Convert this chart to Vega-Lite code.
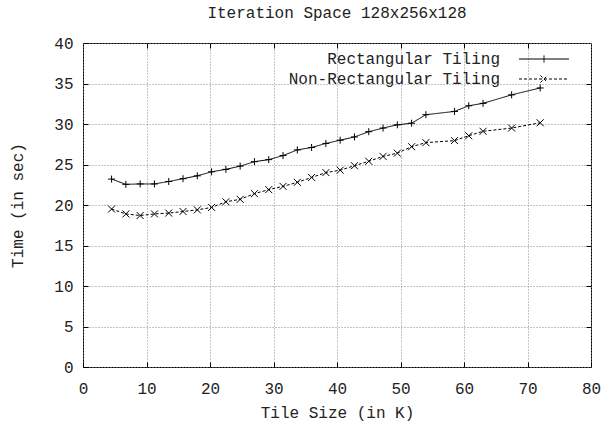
{
  "$schema": "https://vega.github.io/schema/vega-lite/v6.json",
  "width": 508,
  "height": 324,
  "autosize": "none",
  "padding": {"left": 83, "top": 43, "right": 16, "bottom": 57},
  "background": "white",
  "config": {
    "view": {"stroke": "black", "strokeWidth": 1},
    "font": "Liberation Mono",
    "axis": {"labelFont": "Liberation Mono", "titleFont": "Liberation Mono", "labelFontSize": 16, "titleFontSize": 16, "titleFontWeight": "normal", "labelColor": "#222", "titleColor": "#222", "domain": false, "tickColor": "black", "gridColor": "#888", "gridDash": [1, 2], "gridWidth": 1}
  },
  "title": {"text": "Iteration Space 128x256x128", "font": "Liberation Mono", "fontSize": 16, "fontWeight": "normal", "color": "#222", "anchor": "middle", "offset": 14},
  "data": {"values": [
    {"x": 4.5, "t": 23.2, "s": "Rectangular Tiling"},
    {"x": 6.75, "t": 22.55, "s": "Rectangular Tiling"},
    {"x": 9, "t": 22.6, "s": "Rectangular Tiling"},
    {"x": 11.25, "t": 22.6, "s": "Rectangular Tiling"},
    {"x": 13.5, "t": 22.9, "s": "Rectangular Tiling"},
    {"x": 15.75, "t": 23.25, "s": "Rectangular Tiling"},
    {"x": 18, "t": 23.6, "s": "Rectangular Tiling"},
    {"x": 20.25, "t": 24.1, "s": "Rectangular Tiling"},
    {"x": 22.5, "t": 24.4, "s": "Rectangular Tiling"},
    {"x": 24.75, "t": 24.8, "s": "Rectangular Tiling"},
    {"x": 27, "t": 25.35, "s": "Rectangular Tiling"},
    {"x": 29.25, "t": 25.6, "s": "Rectangular Tiling"},
    {"x": 31.5, "t": 26.1, "s": "Rectangular Tiling"},
    {"x": 33.75, "t": 26.8, "s": "Rectangular Tiling"},
    {"x": 36, "t": 27.1, "s": "Rectangular Tiling"},
    {"x": 38.25, "t": 27.6, "s": "Rectangular Tiling"},
    {"x": 40.5, "t": 28.0, "s": "Rectangular Tiling"},
    {"x": 42.75, "t": 28.4, "s": "Rectangular Tiling"},
    {"x": 45, "t": 29.05, "s": "Rectangular Tiling"},
    {"x": 47.25, "t": 29.5, "s": "Rectangular Tiling"},
    {"x": 49.5, "t": 29.9, "s": "Rectangular Tiling"},
    {"x": 51.75, "t": 30.1, "s": "Rectangular Tiling"},
    {"x": 54, "t": 31.15, "s": "Rectangular Tiling"},
    {"x": 58.5, "t": 31.55, "s": "Rectangular Tiling"},
    {"x": 60.75, "t": 32.25, "s": "Rectangular Tiling"},
    {"x": 63, "t": 32.55, "s": "Rectangular Tiling"},
    {"x": 67.5, "t": 33.6, "s": "Rectangular Tiling"},
    {"x": 72, "t": 34.45, "s": "Rectangular Tiling"},
    {"x": 4.5, "t": 19.5, "s": "Non-Rectangular Tiling"},
    {"x": 6.75, "t": 18.9, "s": "Non-Rectangular Tiling"},
    {"x": 9, "t": 18.7, "s": "Non-Rectangular Tiling"},
    {"x": 11.25, "t": 18.9, "s": "Non-Rectangular Tiling"},
    {"x": 13.5, "t": 19.0, "s": "Non-Rectangular Tiling"},
    {"x": 15.75, "t": 19.2, "s": "Non-Rectangular Tiling"},
    {"x": 18, "t": 19.4, "s": "Non-Rectangular Tiling"},
    {"x": 20.25, "t": 19.7, "s": "Non-Rectangular Tiling"},
    {"x": 22.5, "t": 20.4, "s": "Non-Rectangular Tiling"},
    {"x": 24.75, "t": 20.7, "s": "Non-Rectangular Tiling"},
    {"x": 27, "t": 21.4, "s": "Non-Rectangular Tiling"},
    {"x": 29.25, "t": 21.9, "s": "Non-Rectangular Tiling"},
    {"x": 31.5, "t": 22.3, "s": "Non-Rectangular Tiling"},
    {"x": 33.75, "t": 22.8, "s": "Non-Rectangular Tiling"},
    {"x": 36, "t": 23.4, "s": "Non-Rectangular Tiling"},
    {"x": 38.25, "t": 24.0, "s": "Non-Rectangular Tiling"},
    {"x": 40.5, "t": 24.3, "s": "Non-Rectangular Tiling"},
    {"x": 42.75, "t": 24.85, "s": "Non-Rectangular Tiling"},
    {"x": 45, "t": 25.4, "s": "Non-Rectangular Tiling"},
    {"x": 47.25, "t": 26.0, "s": "Non-Rectangular Tiling"},
    {"x": 49.5, "t": 26.4, "s": "Non-Rectangular Tiling"},
    {"x": 51.75, "t": 27.2, "s": "Non-Rectangular Tiling"},
    {"x": 54, "t": 27.7, "s": "Non-Rectangular Tiling"},
    {"x": 58.5, "t": 27.95, "s": "Non-Rectangular Tiling"},
    {"x": 60.75, "t": 28.55, "s": "Non-Rectangular Tiling"},
    {"x": 63, "t": 29.1, "s": "Non-Rectangular Tiling"},
    {"x": 67.5, "t": 29.5, "s": "Non-Rectangular Tiling"},
    {"x": 72, "t": 30.15, "s": "Non-Rectangular Tiling"}
  ]},
  "resolve": {"axis": {"x": "independent", "y": "independent"}},
  "layer": [
    {
      "mark": {"type": "line", "color": "black", "strokeWidth": 1},
      "encoding": {
        "x": {"field": "x", "type": "quantitative", "scale": {"domain": [0, 80], "nice": false, "zero": false},
              "axis": {"values": [0, 10, 20, 30, 40, 50, 60, 70, 80], "title": "Tile Size (in K)", "tickSize": -5, "labelPadding": 18, "titlePadding": 8, "grid": true, "labelFlush": false}},
        "y": {"field": "t", "type": "quantitative", "scale": {"domain": [0, 40], "nice": false},
              "axis": {"values": [0, 5, 10, 15, 20, 25, 30, 35, 40], "title": "Time (in sec)", "tickSize": -5, "labelPadding": 15, "titlePadding": 28, "grid": true, "labelFlush": false}},
        "strokeDash": {"field": "s", "type": "nominal",
          "scale": {"domain": ["Rectangular Tiling", "Non-Rectangular Tiling"], "range": [[1, 0], [3, 2]]},
          "legend": {"orient": "none", "legendX": 453, "legendY": 8, "title": null, "symbolSize": 51, "labelAlign": "right", "labelOffset": -52, "labelLimit": 500, "labelFont": "Liberation Mono", "labelFontSize": 16, "labelColor": "#222", "padding": 0, "rowPadding": 4, "symbolStrokeWidth": 1, "symbolStrokeColor": "black",
            "encode": {"symbols": {"update": {"shape": {"signal": "datum.value === 'Rectangular Tiling' ? 'M-7,0L7,0M0,-1L0,1' : 'M-7,0L7,0M-1,-1L1,1M-1,1L1,-1'"}}}}}
        },
        "detail": {"field": "s"}
      }
    },
    {
      "transform": [{"filter": "datum.s === 'Rectangular Tiling'"}],
      "mark": {"type": "point", "filled": false, "color": "black", "strokeWidth": 1, "size": 49, "opacity": 1, "shape": "M-1,0H1M0,-1V1"},
      "encoding": {
        "x": {"field": "x", "type": "quantitative", "scale": {"domain": [0, 80], "nice": false},
              "axis": {"orient": "top", "values": [10, 20, 30, 40, 50, 60, 70], "labels": false, "title": null, "tickSize": -5, "grid": false}},
        "y": {"field": "t", "type": "quantitative", "scale": {"domain": [0, 40], "nice": false},
              "axis": {"orient": "right", "values": [5, 10, 15, 20, 25, 30, 35], "labels": false, "title": null, "tickSize": -5, "grid": false}}
      }
    },
    {
      "transform": [{"filter": "datum.s === 'Non-Rectangular Tiling'"}],
      "mark": {"type": "point", "filled": false, "color": "black", "strokeWidth": 1, "size": 49, "opacity": 1, "shape": "M-1,-1L1,1M-1,1L1,-1"},
      "encoding": {
        "x": {"field": "x", "type": "quantitative", "scale": {"domain": [0, 80], "nice": false}, "axis": null},
        "y": {"field": "t", "type": "quantitative", "scale": {"domain": [0, 40], "nice": false}, "axis": null}
      }
    }
  ]
}
